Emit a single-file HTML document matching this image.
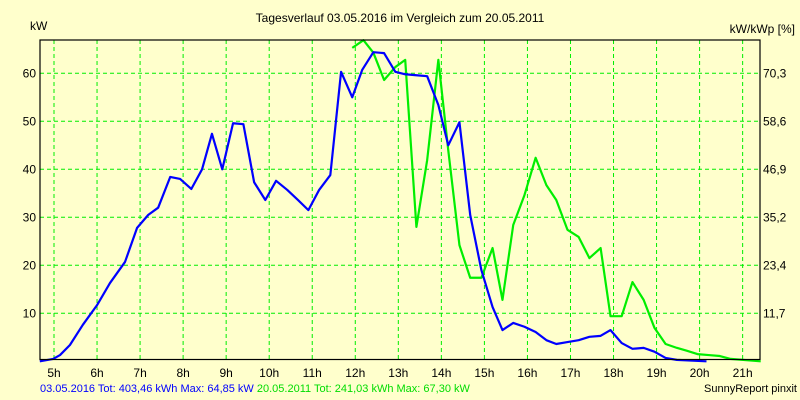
<!DOCTYPE html>
<html><head><meta charset="utf-8"><style>
body{margin:0;background:#ffffcc;}
svg{display:block;font-family:"Liberation Sans",sans-serif;}
</style></head><body>
<svg id="chart" width="800" height="400">
<rect x="0" y="0" width="800" height="400" fill="#ffffcc"/>
<text x="400" y="22" font-size="12" text-anchor="middle" fill="#000">Tagesverlauf 03.05.2016 im Vergleich zum 20.05.2011</text>
<text x="30" y="30" font-size="12">kW</text>
<text x="795" y="33" font-size="12" text-anchor="end">kW/kWp [%]</text>
<g id="grid"></g><g id="series"></g><g id="ticks"></g>
<rect x="40" y="40" width="720" height="319.5" fill="none" stroke="#000" stroke-width="1.2"/>
<text x="40" y="392" font-size="11"><tspan fill="#0000ff">03.05.2016 Tot: 403,46 kWh Max: 64,85 kW </tspan><tspan fill="#00dd00">20.05.2011 Tot: 241,03 kWh Max: 67,30 kW</tspan></text>
<text x="797" y="392" font-size="11" text-anchor="end">SunnyReport pinxit</text>
</svg>
<script>
const hourTicks=[5,6,7,8,9,10,11,12,13,14,15,16,17,18,19,20,21];
const kwTicks=[10,20,30,40,50,60];
const pctLabels=["11,7","23,4","35,2","46,9","58,6","70,3"];
const blueHours=[4.67,4.98,5.14,5.37,5.67,6.0,6.3,6.65,6.93,7.19,7.42,7.7,7.93,8.19,8.44,8.67,8.91,9.16,9.4,9.65,9.91,10.16,10.42,10.67,10.91,11.16,11.42,11.67,11.93,12.16,12.42,12.67,12.93,13.16,13.42,13.67,13.93,14.16,14.42,14.67,14.93,15.19,15.42,15.67,15.93,16.19,16.44,16.67,16.93,17.19,17.44,17.7,17.93,18.19,18.44,18.7,18.95,19.21,19.47,20.16];
const blueKw=[0,0.5,1.3,3.4,7.6,11.7,16.3,20.7,27.8,30.5,32,38.4,38,35.9,40,47.4,40,49.6,49.4,37.3,33.6,37.6,35.7,33.6,31.5,35.7,38.8,60.3,55,60.7,64.4,64.2,60.3,59.8,59.6,59.4,53.4,45,49.8,30.5,19,11.3,6.5,8,7.2,6.1,4.4,3.6,4,4.4,5.1,5.3,6.5,3.8,2.6,2.8,2,0.7,0.3,0];
const greenHours=[11.93,12.19,12.42,12.67,12.93,13.16,13.42,13.67,13.93,14.16,14.42,14.67,14.93,15.19,15.42,15.67,15.93,16.19,16.44,16.67,16.93,17.19,17.44,17.7,17.93,18.19,18.44,18.7,18.95,19.21,19.47,19.7,19.95,20.21,20.47,20.72,21.42];
const greenKw=[65.3,66.9,64.3,58.6,61.3,62.8,28,41.9,62.8,44,24.2,17.4,17.4,23.6,12.8,28.4,34.6,42.4,36.7,33.6,27.4,25.9,21.5,23.6,9.4,9.4,16.5,12.8,7,3.6,2.8,2.2,1.5,1.3,1.1,0.5,0];
const NS="http://www.w3.org/2000/svg";
function xS(h){return 54+(h-5)*43.04;}
function yS(v){return 361.3-v*4.8;}
function mk(tag,attrs,parent){const e=document.createElementNS(NS,tag);for(const k in attrs)e.setAttribute(k,attrs[k]);parent.appendChild(e);return e;}
const grid=document.getElementById('grid'),ticks=document.getElementById('ticks'),series=document.getElementById('series');
hourTicks.forEach(h=>{
 const l=mk('line',{x1:xS(h),x2:xS(h),y1:40,y2:359,stroke:'#00ee00','stroke-dasharray':'4,3'},grid);
 
 
 const t=mk('text',{x:xS(h),y:377,'font-size':12,'text-anchor':'middle'},ticks);t.textContent=h+'h';
 
 
});
kwTicks.forEach((v,i)=>{
 const l=mk('line',{x1:40,x2:760,y1:yS(v),y2:yS(v),stroke:'#00ee00','stroke-dasharray':'4,3'},grid);
 
 
 const t=mk('text',{x:36,y:yS(v)+4,'font-size':12,'text-anchor':'end'},ticks);t.textContent=v;
 
 
 const t2=mk('text',{x:763,y:yS(v)+4,'font-size':12},ticks);t2.textContent=pctLabels[i];
 
 
});
function line(hs,vs,color,name){
 const p=mk('polyline',{points:hs.map((h,i)=>xS(h)+','+yS(vs[i])).join(' '),fill:'none',stroke:color,'stroke-width':2.2,'stroke-linejoin':'round'},series);
 
 
}
line(greenHours,greenKw,'#00ee00','series-2011');
line(blueHours,blueKw,'#0000ff','series-2016');
</script>
</body></html>
